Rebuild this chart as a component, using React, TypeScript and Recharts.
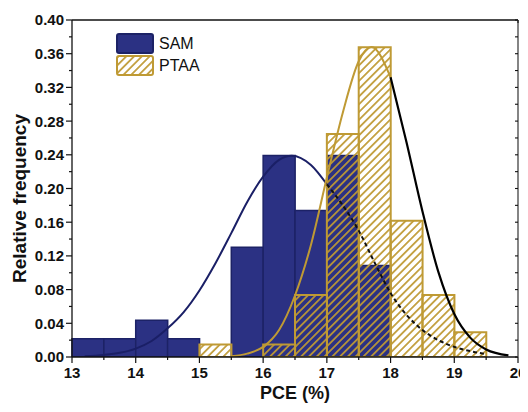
import React from "react";
import {
  Bar,
  ComposedChart,
  Legend,
  Line,
  XAxis,
  YAxis,
} from "recharts";

// histogram bins (0.5 wide, 13 -> 20), bin centres used as categories
const binCentres = [
  "13.25", "13.75", "14.25", "14.75", "15.25", "15.75", "16.25",
  "16.75", "17.25", "17.75", "18.25", "18.75", "19.25", "19.75",
];
const samFreq = [
  0.0217, 0.0217, 0.0435, 0.0217, null, 0.1304, 0.2391,
  0.1739, 0.2391, 0.1087, null, null, null, null,
];
const ptaaFreq = [
  null, null, null, null, 0.0147, null, 0.0147,
  0.0735, 0.2647, 0.3676, 0.1618, 0.0735, 0.0294, null,
];

// fitted distribution curves
const samFitX = [
  13.2, 13.5, 13.75, 14, 14.25, 14.5, 14.75, 15, 15.25, 15.5, 15.75, 16, 16.25,
  16.45, 16.75, 17, 17.25, 17.5, 17.75, 18, 18.25, 18.5, 18.75, 19, 19.25, 19.5,
];
const samFitY = [
  0.001, 0.0025, 0.005, 0.01, 0.019, 0.034, 0.053, 0.079, 0.111, 0.147, 0.184, 0.214, 0.234,
  0.239, 0.228, 0.205, 0.18, 0.15, 0.112, 0.076, 0.05, 0.032, 0.02, 0.012, 0.007, 0.0035,
];
const ptaaFitX = [
  15.5, 15.75, 16, 16.25, 16.5, 16.75, 17, 17.25, 17.5, 17.7, 18, 18.25, 18.5,
  18.75, 19, 19.25, 19.5, 19.85,
];
const ptaaFitY = [
  0.001, 0.004, 0.012, 0.032, 0.073, 0.133, 0.213, 0.29, 0.351, 0.368, 0.332, 0.255, 0.173,
  0.101, 0.051, 0.023, 0.009, 0.002,
];

const seriesNames = ["SAM", "PTAA"];
const xTicks = [13, 13.5, 14, 14.5, 15, 15.5, 16, 16.5, 17, 17.5, 18, 18.5, 19, 19.5, 20];
const yTicks = [
  0, 0.02, 0.04, 0.06, 0.08, 0.1, 0.12, 0.14, 0.16, 0.18, 0.2,
  0.22, 0.24, 0.26, 0.28, 0.3, 0.32, 0.34, 0.36, 0.38, 0.4,
];

const NAVY = "#2b3183";
const NAVY_EDGE = "#1c2266";
const NAVY_LINE = "#1a1f66";
const GOLD = "#bf9a34";
const INK = "#111";
const FONT = '"Liberation Sans", Arial, sans-serif';

const histData = binCentres.map((bin, i) => ({ bin, sam: samFreq[i], ptaa: ptaaFreq[i] }));
const toPts = (xs: number[], ys: number[]) => xs.map((x, i) => ({ x, y: ys[i] }));
const samFit = toPts(samFitX, samFitY);
const ptaaFit = toPts(ptaaFitX, ptaaFitY);

const isMajorX = (v: number) => Number.isInteger(v);
const isMajorY = (v: number) => Math.abs(Math.round(v * 100) % 4) === 0;

const BottomTick = ({ x, y, payload }: any) => {
  const major = isMajorX(payload.value);
  return (
    <g>
      <line x1={x} x2={x} y1={y} y2={y + (major ? 6 : 3)} stroke={INK} strokeWidth={1.2} />
      {major && (
        <text x={x} y={y + 10} dy="0.75em" textAnchor="middle" fontSize={15} fontWeight="bold" fill={INK} fontFamily={FONT}>
          {payload.value}
        </text>
      )}
    </g>
  );
};

const LeftTick = ({ x, y, payload }: any) => {
  const major = isMajorY(payload.value);
  return (
    <g>
      <line x1={x} x2={x - (major ? 6 : 3)} y1={y} y2={y} stroke={INK} strokeWidth={1.2} />
      {major && (
        <text x={x - 8} y={y} dy="0.36em" textAnchor="end" fontSize={15} fontWeight="bold" fill={INK} fontFamily={FONT}>
          {payload.value.toFixed(2)}
        </text>
      )}
    </g>
  );
};

const TopTick = ({ x, y }: any) => (
  <line x1={x} x2={x} y1={y} y2={y + 3} stroke={INK} strokeWidth={1.1} />
);
const RightTick = ({ x, y }: any) => (
  <line x1={x} x2={x - 3} y1={y} y2={y} stroke={INK} strokeWidth={1.1} />
);

const yLabel = (props: any) => {
  const vb = props.viewBox;
  const cx = vb.x + 11;
  const cy = vb.y + vb.height / 2 + 10;
  return (
    <text
      x={cx}
      y={cy}
      transform={`rotate(-90 ${cx} ${cy})`}
      textAnchor="middle"
      dominantBaseline="central"
      fontSize={19}
      fontWeight="bold"
      fill={INK}
      fontFamily={FONT}
    >
      Relative frequency
    </text>
  );
};

const xLabel = (props: any) => {
  const vb = props.viewBox;
  return (
    <text x={vb.x + vb.width / 2} y={vb.y + vb.height - 5} textAnchor="middle" fontSize={18} fontWeight="bold" fill={INK} fontFamily={FONT}>
      PCE (%)
    </text>
  );
};

const LegendBox = () => (
  <div style={{ display: "flex", flexDirection: "column", gap: 1, fontFamily: FONT }}>
    {seriesNames.map((name, i) => (
      <div key={name} style={{ display: "flex", alignItems: "center", height: 21 }}>
        <svg width={38} height={21}>
          <defs>
            <pattern id="legendHatch" patternUnits="userSpaceOnUse" width={5.5} height={5.5} patternTransform="rotate(45)">
              <line x1={2.75} y1={0} x2={2.75} y2={5.5} stroke={GOLD} strokeWidth={1.7} />
            </pattern>
          </defs>
          <rect
            x={1}
            y={1}
            width={36}
            height={19}
            rx={2}
            fill={i === 0 ? NAVY : "url(#legendHatch)"}
            stroke={i === 0 ? NAVY_EDGE : GOLD}
            strokeWidth={2}
          />
        </svg>
        <span style={{ marginLeft: 5, fontSize: 16, color: INK }}>{name}</span>
      </div>
    ))}
  </div>
);

export default function App() {
  return (
    <div style={{ fontFamily: FONT, width: 520 }}>
      <ComposedChart
        width={520}
        height={396}
        data={histData}
        margin={{ top: 12, right: 10, bottom: 0, left: 0 }}
        barCategoryGap={0}
      >
        <defs>
          <pattern id="ptaaHatch" patternUnits="userSpaceOnUse" width={5.5} height={5.5} patternTransform="rotate(45)">
            <line x1={2.75} y1={0} x2={2.75} y2={5.5} stroke={GOLD} strokeWidth={1.7} />
          </pattern>
        </defs>

        <XAxis xAxisId="samX" dataKey="bin" type="category" hide />
        <XAxis xAxisId="ptaaX" dataKey="bin" type="category" hide />
        <XAxis
          xAxisId="num"
          dataKey="x"
          type="number"
          domain={[13, 20]}
          ticks={xTicks}
          interval={0}
          allowDataOverflow
          height={47}
          tickSize={0}
          tickMargin={0}
          tickLine={false}
          tick={<BottomTick />}
          axisLine={{ stroke: INK, strokeWidth: 1.3 }}
          label={xLabel}
        />
        <XAxis
          xAxisId="top"
          orientation="top"
          mirror
          type="number"
          domain={[13, 20]}
          ticks={xTicks}
          interval={0}
          allowDataOverflow
          tickSize={0}
          tickMargin={0}
          tickLine={false}
          tick={<TopTick />}
          axisLine={{ stroke: INK, strokeWidth: 1.3 }}
        />
        <YAxis
          yAxisId="y"
          type="number"
          domain={[0, 0.4]}
          ticks={yTicks}
          interval={0}
          allowDataOverflow
          width={64}
          tickSize={0}
          tickMargin={0}
          tickLine={false}
          tick={<LeftTick />}
          axisLine={{ stroke: INK, strokeWidth: 1.3 }}
          label={yLabel}
        />
        <YAxis
          yAxisId="right"
          orientation="right"
          mirror
          type="number"
          domain={[0, 0.4]}
          ticks={yTicks}
          interval={0}
          allowDataOverflow
          tickSize={0}
          tickMargin={0}
          tickLine={false}
          tick={<RightTick />}
          axisLine={{ stroke: "#666", strokeWidth: 1.6 }}
        />

        <Legend
          layout="vertical"
          align="center"
          verticalAlign="middle"
          wrapperStyle={{ left: 108, top: 25, width: 120 }}
          content={<LegendBox />}
        />

        <Bar
          xAxisId="samX"
          yAxisId="y"
          dataKey="sam"
          name="SAM"
          fill={NAVY}
          stroke={NAVY_EDGE}
          strokeWidth={1.5}
          isAnimationActive={false}
        />
        <Bar
          xAxisId="ptaaX"
          yAxisId="y"
          dataKey="ptaa"
          name="PTAA"
          fill="url(#ptaaHatch)"
          stroke={GOLD}
          strokeWidth={2}
          isAnimationActive={false}
        />

        <Line
          xAxisId="num"
          yAxisId="y"
          data={samFit.filter((p) => p.x <= 17)}
          dataKey="y"
          type="monotone"
          stroke={NAVY_LINE}
          strokeWidth={2}
          dot={false}
          activeDot={false}
          legendType="none"
          isAnimationActive={false}
        />
        <Line
          xAxisId="num"
          yAxisId="y"
          data={samFit.filter((p) => p.x >= 17)}
          dataKey="y"
          type="monotone"
          stroke={INK}
          strokeWidth={2}
          strokeDasharray="4 3"
          dot={false}
          activeDot={false}
          legendType="none"
          isAnimationActive={false}
        />
        <Line
          xAxisId="num"
          yAxisId="y"
          data={ptaaFit.filter((p) => p.x <= 18)}
          dataKey="y"
          type="monotone"
          stroke={GOLD}
          strokeWidth={2}
          dot={false}
          activeDot={false}
          legendType="none"
          isAnimationActive={false}
        />
        <Line
          xAxisId="num"
          yAxisId="y"
          data={ptaaFit.filter((p) => p.x >= 18)}
          dataKey="y"
          type="monotone"
          stroke="#000"
          strokeWidth={2.2}
          dot={false}
          activeDot={false}
          legendType="none"
          isAnimationActive={false}
        />
      </ComposedChart>
    </div>
  );
}
